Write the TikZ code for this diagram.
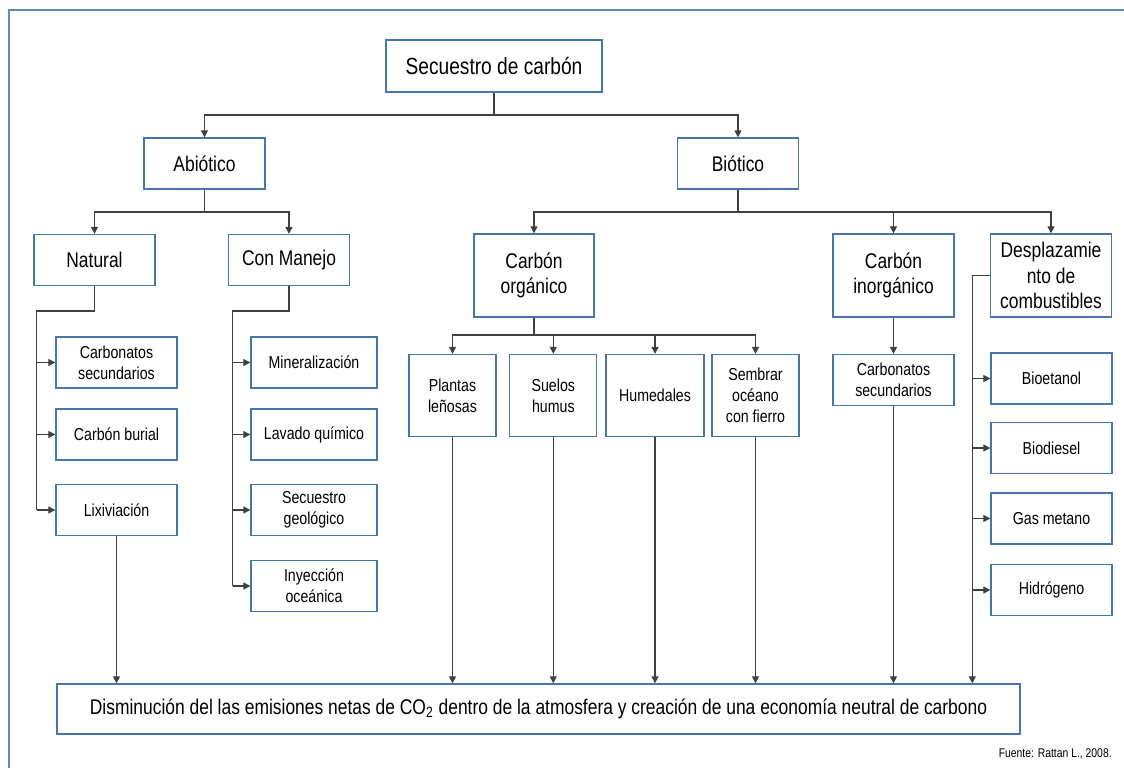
\documentclass[tikz,border=0pt]{standalone}
\usepackage{fontspec}
\setmainfont{Liberation Sans}[FakeStretch=0.82]
\usetikzlibrary{arrows.meta}
\definecolor{boxblue}{RGB}{72,118,172}
\definecolor{frameblue}{RGB}{96,138,190}

\begin{document}
\begin{tikzpicture}[x=0.02cm, y=-0.02cm,
    box/.style={draw=boxblue, line width=0.75pt, fill=white, align=center, inner sep=1pt,
        font=\fontsize{12.1}{14.5}\selectfont},
    leaf/.style={box, font=\fontsize{9.85}{11.8}\selectfont},
    wide/.style={minimum width=2.42cm, minimum height=1.02cm},
    tall/.style={minimum width=2.42cm, minimum height=1.66cm},
    conn/.style={draw=black!75, line width=0.6pt},
    arr/.style={conn, -{Triangle[length=4pt,width=4pt]}}]
        \useasboundingbox (0,0) rectangle (1124,767);
        % Frame
        \draw[frameblue, line width=0.6pt] (1130,10) -- (9,10) -- (9,775);

        % Level 1 and 2
        \node[box, font=\fontsize{13.3}{16}\selectfont, minimum width=4.32cm, minimum height=1.04cm] (top) at (494,66) {Secuestro de carbón};
        \node[box, wide] (abio) at (204.5,163.5) {Abiótico};
        \node[box, wide] (bio) at (738,163.5) {Biótico};

        % Level 3
        \node[box, wide] (nat) at (94.5,260) {Natural};
        \node[box, wide] (man) at (289,260) {Con Manejo};
        \node[box, tall, minimum width=2.4cm] (corg) at (534,275.5) {Carbón\\orgánico};
        \node[box, tall] (cinorg) at (893.5,275.5) {Carbón\\inorgánico};
        \node[box, tall] (desp) at (1051,275.5) {Desplazamie\\nto de\\combustibles};

        % Leaves under Natural and Con Manejo
        \foreach \y/\n/\t in {362.5/cs1/{Carbonatos\\secundarios}, 434.5/cb/{Carbón burial}, 510/lix/{Lixiviación}} {
            \node[leaf, wide] (\n) at (116.5,\y) {\t};
        }
        \foreach \y/\n/\t in {362.5/mine/{Mineralización}, 434.5/lav/{Lavado químico}, 510/geo/{Secuestro\\geológico}, 586/iny/{Inyección\\oceánica}} {
            \node[leaf, minimum width=2.52cm, minimum height=1.02cm] (\n) at (314,\y) {\t};
        }

        % Leaves under Carbón orgánico
        \foreach \x/\w/\n/\t in {452.5/1.74/pla/{Plantas\\leñosas}, 553.3/1.74/sue/{Suelos\\humus}, 655/1.96/hum/{Humedales}, 755.5/1.74/sem/{Sembrar\\océano\\con fierro}} {
            \node[leaf, minimum width=\w cm, minimum height=1.64cm] (\n) at (\x,395.5) {\t};
        }
        \node[leaf, wide] (cs2) at (893.5,380) {Carbonatos\\secundarios};

        % Leaves under Desplazamiento
        \foreach \y/\n/\t in {378.5/bioe/Bioetanol, 448/biod/Biodiesel, 518.5/gas/Gas metano, 590/hid/Hidrógeno} {
            \node[leaf, wide] (\n) at (1051.5,\y) {\t};
        }

        % Result and source
        \node[box, minimum width=19.26cm, minimum height=1.0cm] (dis) at (538.5,709) {Disminución del las emisiones netas de CO\textsubscript{2} dentro de la atmosfera y creación de una economía neutral de carbono};
        \node[anchor=east, inner sep=0pt, font=\fontsize{7.2}{8}\selectfont] (src) at (1112,754) {Fuente: Rattan L., 2008.};

        % Connectors, top part
        \coordinate (j1) at (494,115);
        \draw[conn] (top) -- (j1);
        \draw[arr] (j1) -| (abio);
        \draw[arr] (j1) -| (bio);

        \coordinate (j2) at (204.5,212);
        \draw[conn] (abio) -- (j2);
        \draw[arr] (j2) -| (nat);
        \draw[arr] (j2) -| (man);

        \coordinate (j3) at (738,212);
        \draw[conn] (bio) -- (j3);
        \foreach \n in {corg, cinorg, desp} {
            \draw[arr] (j3) -| (\n);
        }

        % Connectors, side rails
        \coordinate (nl) at (36.7,311);
        \draw[conn] (nat) |- (nl) -- (nl |- lix);
        \foreach \n in {cs1, cb, lix} {
            \draw[arr] (nl |- \n) -- (\n);
        }
        \coordinate (ml) at (232.7,311);
        \draw[conn] (man) |- (ml) -- (ml |- iny);
        \foreach \n in {mine, lav, geo, iny} {
            \draw[arr] (ml |- \n) -- (\n);
        }
        \coordinate (dl) at (972.3,275.5);
        \draw[arr] (desp) -- (dl) -- (dl |- dis.north);
        \foreach \n in {bioe, biod, gas, hid} {
            \draw[arr] (dl |- \n) -- (\n);
        }

        % Connectors, Carbón orgánico and inorgánico
        \coordinate (j4) at (534,335);
        \draw[conn] (corg) -- (j4);
        \foreach \n in {pla, sue, hum, sem} {
            \draw[arr] (j4) -| (\n);
        }
        \draw[arr] (cinorg) -- (cs2);

        % Connectors down to the result
        \foreach \n in {lix, pla, sue, hum, sem, cs2} {
            \draw[arr] (\n) -- (\n |- dis.north);
        }
    \end{tikzpicture}
\end{document}
